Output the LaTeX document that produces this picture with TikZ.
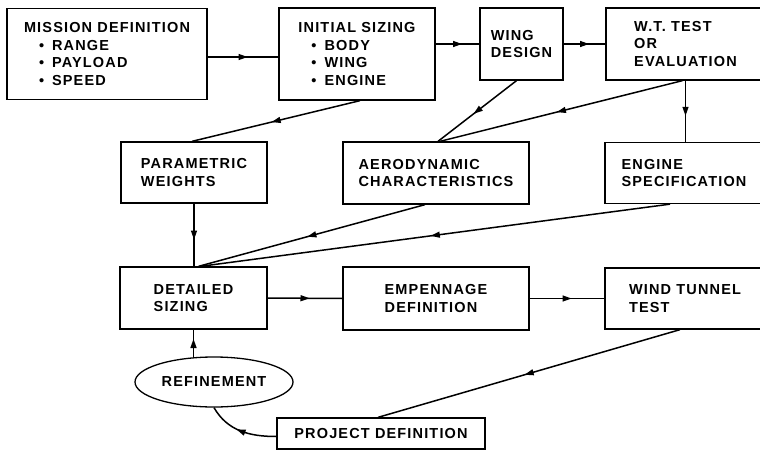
\documentclass[tikz,border=0pt]{standalone}
\usepackage{fontspec}
\setmainfont[LetterSpace=8]{Liberation Sans}
\usetikzlibrary{decorations.markings,shapes.geometric}

\tikzset{
  box/.style={draw, line width=1.3pt, align=left, inner sep=0pt, font=\fontsize{14.5}{17.5}\selectfont\bfseries},
  flow/.style={line width=1.5pt, postaction={decorate},
    decoration={markings, mark=at position 0.5 with {\fill (4.5pt,0) -- (-4.5pt,3.2pt) -- (-4.5pt,-3.2pt) -- cycle;}}}
}
\newcommand{\itemrow}[2]{\hspace*{#1}\textbullet\hspace{8pt}#2}

\begin{document}
\begin{tikzpicture}[x=1pt,y=1pt]
	\useasboundingbox (0,0) rectangle (760,451);
	\clip (0,0) rectangle (760,451);

	\node[box, minimum width=200pt, minimum height=91pt] (mission) at (107,397)
		{MISSION DEFINITION\\ \itemrow{15pt}{RANGE}\\ \itemrow{15pt}{PAYLOAD}\\ \itemrow{15pt}{SPEED}};
	\node[box, minimum width=156pt, minimum height=92pt] (init) at (357,397)
		{INITIAL SIZING\\ \itemrow{13pt}{BODY}\\ \itemrow{13pt}{WING}\\ \itemrow{13pt}{ENGINE}};
	\node[box, minimum width=83pt, minimum height=72pt] (wing) at (521.5,407) {WING\\DESIGN};
	\node[box, minimum width=159pt, minimum height=72pt] (wt) at (685.5,407) {W.T. TEST\\OR\\EVALUATION};

	\node[box, minimum width=146pt, minimum height=61pt] (param) at (194,278.5) {PARAMETRIC\\WEIGHTS};
	\node[box, minimum width=186pt, minimum height=62pt] (aero) at (436,278) {AERODYNAMIC\\CHARACTERISTICS};
	\node[box, minimum width=158pt, minimum height=61pt] (engine) at (684,278) {ENGINE\\SPECIFICATION};

	\node[box, minimum width=147pt, minimum height=62pt] (detail) at (193.5,153) {DETAILED\\SIZING};
	\node[box, minimum width=186pt, minimum height=63pt] (emp) at (436,152.5) {EMPENNAGE\\DEFINITION};
	\node[box, minimum width=160pt, minimum height=61pt] (wtt) at (685,152.5) {WIND TUNNEL\\TEST};

	\node[box, ellipse, minimum width=158pt, minimum height=50pt] (refine) at (214,69) {REFINEMENT};
	\node[box, minimum width=208pt, minimum height=31pt] (project) at (381,17.5) {PROJECT DEFINITION};

	\draw[flow] ([yshift=-3pt]mission.east) -- ([yshift=-3pt]init.west);
	\draw[flow] (init.east |- wing.west) -- (wing.west);
	\draw[flow] (wing.east) -- (wt.west);

	\draw[flow] ([xshift=3pt]init.south) -- ([xshift=-2pt]param.north);
	\draw[flow] ([xshift=-5pt]wing.south) -- ([xshift=2pt]aero.north);
	\draw[flow] ([xshift=-3pt]wt.south) -- ([xshift=4pt]aero.north);
	\draw[flow] (wt.south) -- (wt.south |- engine.north);

	\draw[flow] (param.south) -- (param.south |- detail.north);
	\draw[flow] ([xshift=-11pt]aero.south) -- ([xshift=5pt]detail.north);
	\draw[flow] ([xshift=-14pt]engine.south) -- ([xshift=7pt]detail.north);

	\draw[flow] (detail.east) -- (emp.west);
	\draw[flow] (emp.east) -- (wtt.west);

	\draw[flow] ([xshift=-5pt]wtt.south) -- ([xshift=-3pt]project.north);
	\draw[flow] ([yshift=-3pt]project.west) to[out=180,in=-60] (refine.south);
	\draw[flow] ([yshift=-1pt]refine.north -| detail.south) -- (detail.south);
\end{tikzpicture}
\end{document}
